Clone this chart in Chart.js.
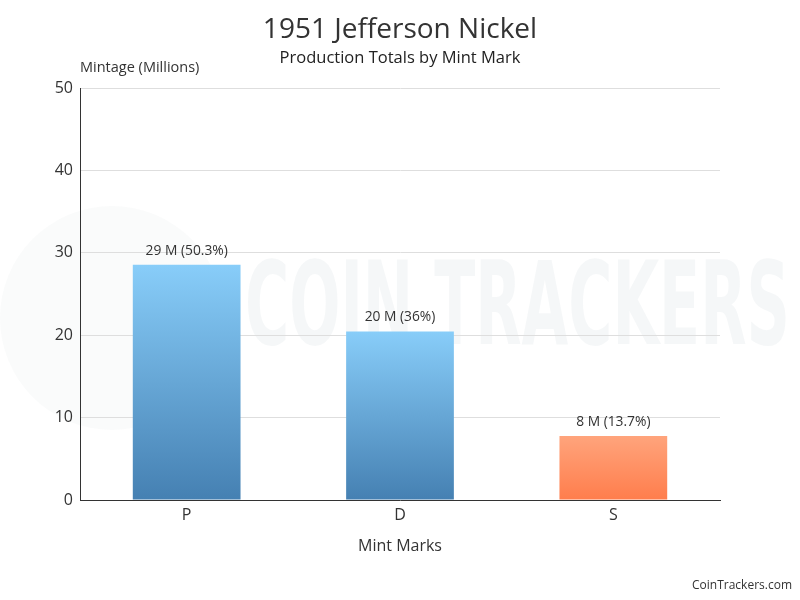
<!DOCTYPE html>
<html>
<head>
<meta charset="utf-8">
<script src="https://cdn.jsdelivr.net/npm/chart.js@4"></script>
<style>
html,body{margin:0;padding:0;background:#fff;}
#wrap{width:800px;height:600px;position:relative;}
</style>
</head>
<body>
<div id="wrap"><canvas id="c" width="800" height="600"></canvas></div>
<script>
const categories = ["P", "D", "S"];
const mintage = [28.552, 20.46, 7.776];
const yTicks = [0, 10, 20, 30, 40, 50];
const titleText = "1951 Jefferson Nickel";
const subtitleText = "Production Totals by Mint Mark";
const yTitle = "Mintage (Millions)";
const xTitle = "Mint Marks";
const credit = "CoinTrackers.com";

const FONT = "'Open Sans', 'Noto Sans', sans-serif";
const total = mintage.reduce((a, b) => a + b, 0);

const bgColor = (context) => {
  const chart = context.chart;
  const { ctx, chartArea } = chart;
  const i = context.dataIndex;
  const isS = categories[i] === 'S';
  if (!chartArea || !chart.scales.y) return isS ? '#ff9066' : '#6aaee0';
  const yTop = chart.scales.y.getPixelForValue(mintage[i]);
  const yBot = chart.scales.y.getPixelForValue(0);
  const g = ctx.createLinearGradient(0, yTop, 0, yBot);
  if (isS) {
    g.addColorStop(0, '#ffa47c');
    g.addColorStop(1, '#ff7d4c');
  } else {
    g.addColorStop(0, '#88cdf9');
    g.addColorStop(1, '#4580b2');
  }
  return g;
};

const decor = {
  id: 'decor',
  beforeDraw(chart) {
    const ctx = chart.ctx;
    ctx.save();
    ctx.fillStyle = '#fff';
    ctx.fillRect(0, 0, chart.width, chart.height);
    // faint watermark
    ctx.fillStyle = 'rgba(120,130,140,0.035)';
    ctx.beginPath();
    ctx.arc(112, 318, 112, 0, Math.PI * 2);
    ctx.fill();
    ctx.fillStyle = 'rgba(120,135,150,0.07)';
    ctx.font = "bold 116px 'DejaVu Sans Condensed', 'Liberation Sans', sans-serif";
    ctx.textAlign = 'left';
    ctx.textBaseline = 'alphabetic';
    const wm = "COIN TRACKERS";
    const w = ctx.measureText(wm).width;
    ctx.save();
    ctx.translate(245, 344);
    ctx.scale(545 / w, 1);
    ctx.fillText(wm, 0, 0);
    ctx.restore();
    ctx.restore();
  },
  afterDraw(chart) {
    const ctx = chart.ctx;
    ctx.save();
    ctx.fillStyle = '#333';
    ctx.textAlign = 'center';
    ctx.textBaseline = 'middle';
    ctx.font = "28px " + FONT;
    ctx.fillText(titleText, 400, 30);
    ctx.fillStyle = '#222';
    ctx.font = "16.5px " + FONT;
    ctx.fillText(subtitleText, 400, 58);
    ctx.fillStyle = '#333';
    ctx.textAlign = 'left';
    ctx.font = "14.5px " + FONT;
    ctx.fillText(yTitle, 80, 68);
    ctx.textAlign = 'right';
    ctx.font = "12px " + FONT;
    ctx.fillText(credit, 792, 586);
    // data labels
    const meta = chart.getDatasetMeta(0);
    ctx.textAlign = 'center';
    ctx.textBaseline = 'alphabetic';
    ctx.font = "13.8px " + FONT;
    meta.data.forEach((el, i) => {
      const v = mintage[i];
      const pct = parseFloat((v / total * 100).toFixed(1));
      const txt = Math.round(v) + " M (" + pct + "%)";
      ctx.fillText(txt, el.x, el.y - 10);
    });
    ctx.restore();
  }
};

new Chart(document.getElementById('c'), {
  type: 'bar',
  data: {
    labels: categories,
    datasets: [{
      data: mintage,
      backgroundColor: bgColor,
      borderWidth: 0,
      categoryPercentage: 1.0,
      barPercentage: 0.505
    }]
  },
  options: {
    responsive: false,
    animation: false,
    layout: { padding: { top: 88, right: 80, bottom: 40, left: 0 } },
    plugins: {
      legend: { display: false },
      tooltip: { enabled: false },
      title: { display: false }
    },
    scales: {
      x: {
        grid: { display: false, drawTicks: false },
        border: { display: true, color: '#333', width: 1 },
        ticks: { color: '#333', font: { size: 16, family: FONT }, padding: 6 },
        title: { display: true, text: xTitle, color: '#333', font: { size: 16, family: FONT }, padding: { top: 4, bottom: 4 } },
        afterFit(s) { s.height = 60; }
      },
      y: {
        min: 0, max: 50,
        afterBuildTicks(s) { s.ticks = yTicks.map(v => ({ value: v })); },
        grid: { color: '#dedede', drawTicks: false, lineWidth: 1 },
        border: { display: true, color: '#333', width: 1 },
        ticks: { color: '#333', font: { size: 16, family: FONT }, padding: 7 },
        afterFit(s) { s.width = 80; }
      }
    }
  },
  plugins: [decor]
});
</script>
</body>
</html>
